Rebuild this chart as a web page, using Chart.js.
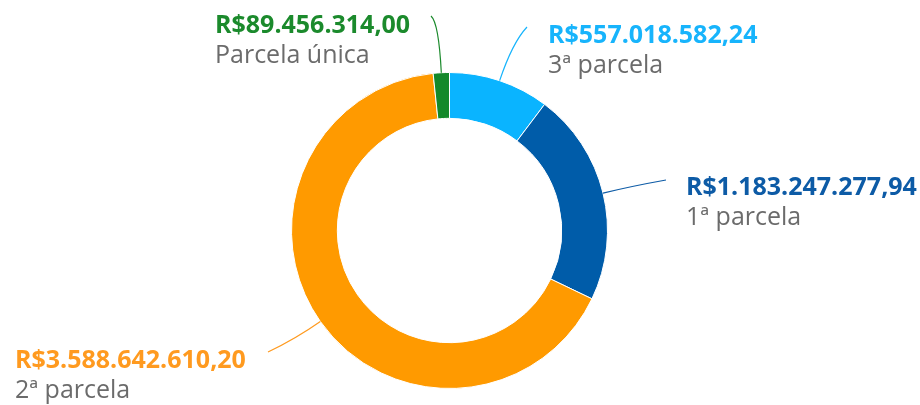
<!DOCTYPE html>
<html>
<head>
<meta charset="utf-8">
<script src="https://cdn.jsdelivr.net/npm/chart.js@4.4.0/dist/chart.umd.min.js"></script>
<style>
    html, body { margin: 0; padding: 0; background: #fff; }
    #wrap { width: 920px; height: 405px; position: relative; }
</style>
</head>
<body>
<div id="wrap"><canvas id="parcelasChart"></canvas></div>
<script>
// --- DATA (clockwise from the top) ---
const categories = ['3ª parcela', '1ª parcela', '2ª parcela', 'Parcela única'];
const values = [557018582.24, 1183247277.94, 3588642610.20, 89456314.00];
const sliceColors = ['#0ab4ff', '#005ca9', '#ff9a00', '#13892a'];
const valueColors = ['#17b4fc', '#0d5ba6', '#ff9a1f', '#1b8a2c'];

// label placement: text left/baseline, leader end point, leader bend (px outside the ring)
const labelLayout = [
    { tx: 548, ty: 43,  ex: 527, ey: 27,  bend: 40 },
    { tx: 686, ty: 195, ex: 666, ey: 180, bend: 30 },
    { tx: 15,  ty: 368, ex: 268, ey: 352, bend: 30 },
    { tx: 215, ty: 33,  ex: 431, ey: 16,  bend: 50 }
];

const FONT = '"Open Sans", "Noto Sans", sans-serif';

// R$1.234.567,89
const formatBRL = (v) => {
    const [int, dec] = v.toFixed(2).split('.');
    return 'R$' + int.replace(/\B(?=(\d{3})+(?!\d))/g, '.') + ',' + dec;
};

/**
 * Draws leader lines + two-line labels next to each slice.
 */
const outsideLabels = {
    id: 'outsideLabels',
    afterDraw(chart) {
        const ctx = chart.ctx;
        const arcs = chart.getDatasetMeta(0).data;
        ctx.save();
        arcs.forEach((arc, i) => {
            const pos = labelLayout[i];
            const { x, y, startAngle, endAngle, outerRadius } = arc.getProps(['x', 'y', 'startAngle', 'endAngle', 'outerRadius'], true);
            const mid = (startAngle + endAngle) / 2;
            const sx = x + Math.cos(mid) * outerRadius;
            const sy = y + Math.sin(mid) * outerRadius;
            const cx = x + Math.cos(mid) * (outerRadius + pos.bend);
            const cy = y + Math.sin(mid) * (outerRadius + pos.bend);

            ctx.beginPath();
            ctx.moveTo(sx, sy);
            ctx.quadraticCurveTo(cx, cy, pos.ex, pos.ey);
            ctx.strokeStyle = valueColors[i];
            ctx.lineWidth = 1.2;
            ctx.stroke();

            ctx.textAlign = 'left';
            ctx.textBaseline = 'alphabetic';
            ctx.font = 'bold 25px ' + FONT;
            ctx.fillStyle = valueColors[i];
            ctx.fillText(formatBRL(values[i]), pos.tx, pos.ty);

            ctx.font = '25px ' + FONT;
            ctx.fillStyle = '#6b6b6b';
            ctx.fillText(categories[i], pos.tx, pos.ty + 30);
        });
        ctx.restore();
    }
};

new Chart(document.getElementById('parcelasChart'), {
    type: 'doughnut',
    data: {
        labels: categories,
        datasets: [{
            data: values,
            backgroundColor: sliceColors,
            borderColor: '#ffffff',
            borderWidth: 1,
            hoverOffset: 0
        }]
    },
    options: {
        responsive: true,
        maintainAspectRatio: false,
        animation: false,
        cutout: '71%',
        layout: {
            padding: { top: 72, bottom: 16, left: 291, right: 312 }
        },
        plugins: {
            legend: { display: false },
            tooltip: { enabled: false }
        }
    },
    plugins: [outsideLabels]
});
</script>
</body>
</html>
